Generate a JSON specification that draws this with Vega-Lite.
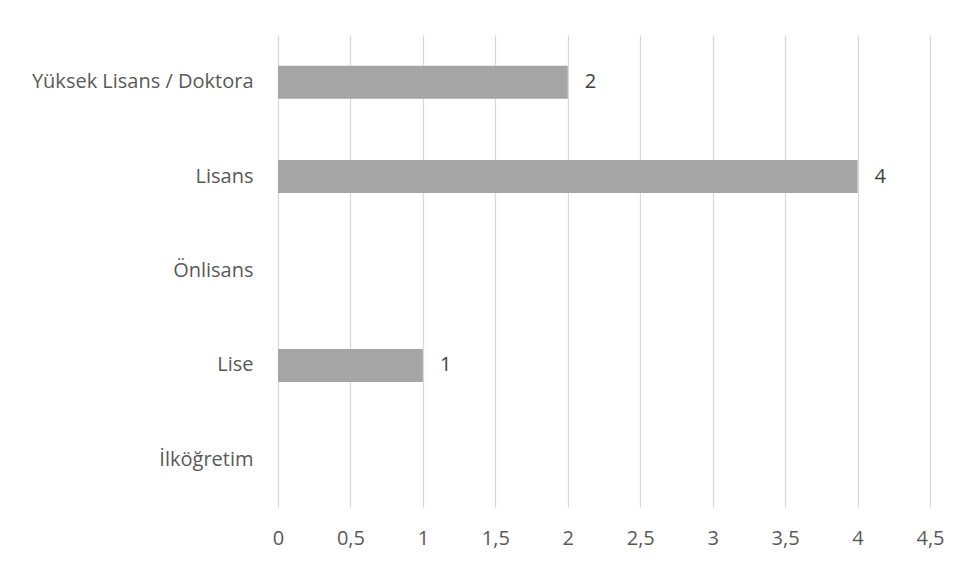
{
  "$schema": "https://vega.github.io/schema/vega-lite/v6.json",
  "width": 652,
  "height": 472,
  "autosize": {"type": "none"},
  "padding": {"left": 278, "top": 35, "right": 35, "bottom": 55},
  "background": "white",
  "config": {"view": {"stroke": null}, "font": "Open Sans"},
  "data": {"values": [
    {"egitim": "Yüksek Lisans / Doktora", "sayi": 2},
    {"egitim": "Lisans", "sayi": 4},
    {"egitim": "Önlisans", "sayi": null},
    {"egitim": "Lise", "sayi": 1},
    {"egitim": "İlköğretim", "sayi": null}
  ]},
  "encoding": {
    "y": {
      "field": "egitim", "type": "nominal",
      "sort": ["Yüksek Lisans / Doktora", "Lisans", "Önlisans", "Lise", "İlköğretim"],
      "scale": {"paddingInner": 0.65, "paddingOuter": 0.325},
      "axis": {"title": null, "domain": false, "ticks": false, "labelPadding": 25, "labelFontSize": 20, "labelColor": "#595959", "labelFont": "Open Sans", "labelLimit": 300}
    },
    "x": {
      "field": "sayi", "type": "quantitative",
      "scale": {"domain": [0, 4.5], "nice": false},
      "axis": {"title": null, "domain": false, "ticks": false, "labelFlush": false, "values": [0, 0.5, 1, 1.5, 2, 2.5, 3, 3.5, 4, 4.5], "labelExpr": "replace(format(datum.value, '~g'), '.', ',')", "labelPadding": 21, "labelFontSize": 20, "labelColor": "#595959", "labelFont": "Open Sans", "grid": true, "gridColor": "#d9d9d9", "gridWidth": 1.3}
    }
  },
  "layer": [
    {"mark": {"type": "bar", "color": "#a5a5a5"}},
    {"mark": {"type": "text", "align": "left", "dx": 17, "fontSize": 20, "color": "#404040", "font": "Open Sans"},
     "encoding": {"text": {"field": "sayi", "type": "quantitative"}}}
  ]
}
